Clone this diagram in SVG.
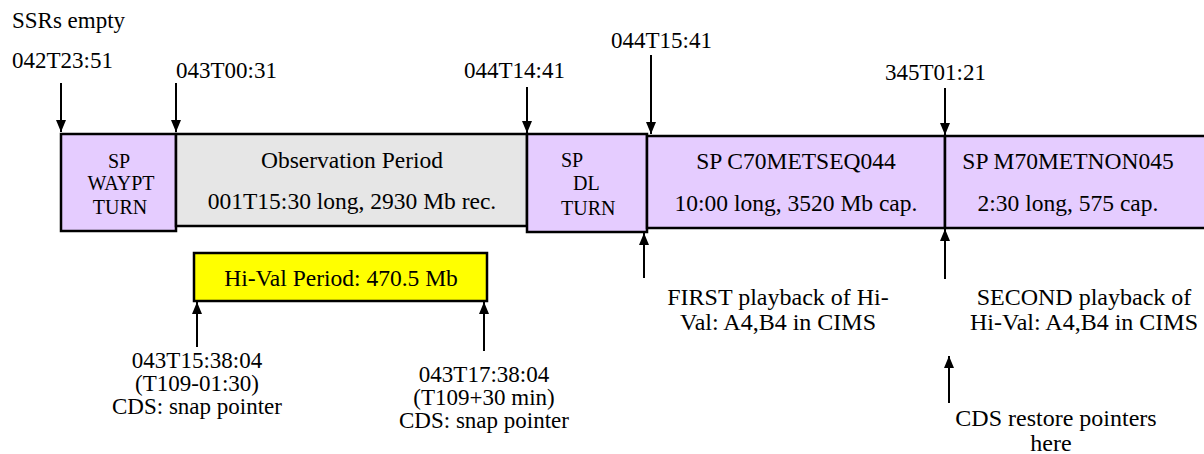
<svg xmlns="http://www.w3.org/2000/svg" width="1204" height="454" viewBox="0 0 1204 454" font-family="'Liberation Serif', 'Times New Roman', Times, serif">
<style>
  .lbl { font-family: "Liberation Serif", "Times New Roman", Times, serif; font-size: 23px; fill: #000; }
  .lbl24 { font-size: 24px; }
  .big { font-family: "Liberation Serif", "Times New Roman", Times, serif; font-size: 23.5px; text-anchor: middle; fill: #000; }
  .small { font-family: "Liberation Serif", "Times New Roman", Times, serif; font-size: 20px; fill: #000; }
  .mid { text-anchor: middle; }
  .box { stroke: #000; stroke-width: 2.5; }
  .purple { fill: #E5CCFF; }
  .gray { fill: #E6E6E6; }
  .yellow { fill: #FFFF00; }
</style>
<defs>
  <marker id="ahd" markerUnits="userSpaceOnUse" markerWidth="12" markerHeight="10" refX="12" refY="5" orient="auto" viewBox="0 0 12 10">
    <path d="M0,0 L12,5 L0,10 Z" fill="#000"/>
  </marker>
</defs>

<g id="waypt-turn">
  <rect class="box purple" x="61" y="134" width="115" height="97"/>
  <text class="small mid" x="119" y="168">SP</text>
  <text class="small mid" x="121" y="190">WAYPT</text>
  <text class="small mid" x="120" y="214">TURN</text>
</g>
<g id="observation">
  <rect class="box gray" x="176" y="134" width="351" height="92"/>
  <text class="big" x="352" y="168">Observation Period</text>
  <text class="big" x="352" y="209">001T15:30 long, 2930 Mb rec.</text>
</g>
<g id="dl-turn">
  <rect class="box purple" x="527" y="134" width="120" height="98"/>
  <text class="small" x="561" y="167">SP</text>
  <text class="small" x="573" y="190">DL</text>
  <text class="small" x="561" y="215">TURN</text>
</g>
<g id="c70">
  <rect class="box purple" x="647" y="136" width="298" height="92"/>
  <text class="big" x="796" y="169">SP C70METSEQ044</text>
  <text class="big" x="796" y="211">10:00 long, 3520 Mb cap.</text>
</g>
<g id="m70">
  <rect class="box purple" x="945" y="136" width="270" height="92"/>
  <text class="big" x="1068" y="169">SP M70METNON045</text>
  <text class="big" x="1068" y="211">2:30 long, 575 cap.</text>
</g>
<g id="hival">
  <rect class="box yellow" x="194" y="253" width="293" height="48"/>
  <text class="big" x="341" y="286">Hi-Val Period: 470.5 Mb</text>
</g>

<g id="labels">
  <text class="lbl" x="12" y="28">SSRs empty</text>
  <text class="lbl" x="12" y="68">042T23:51</text>
  <text class="lbl" x="176" y="78">043T00:31</text>
  <text class="lbl" x="464" y="78">044T14:41</text>
  <text class="lbl" x="611" y="48">044T15:41</text>
  <text class="lbl" x="885" y="80">345T01:21</text>
  <text class="lbl mid" x="197" y="368">043T15:38:04</text>
  <text class="lbl mid" x="197" y="391">(T109-01:30)</text>
  <text class="lbl mid" x="197" y="414">CDS: snap pointer</text>
  <text class="lbl mid" x="484" y="382">043T17:38:04</text>
  <text class="lbl mid" x="484" y="405">(T109+30 min)</text>
  <text class="lbl mid" x="484" y="428">CDS: snap pointer</text>
  <text class="lbl lbl24 mid" x="778" y="305">FIRST playback of Hi-</text>
  <text class="lbl lbl24 mid" x="778" y="330">Val: A4,B4 in CIMS</text>
  <text class="lbl lbl24 mid" x="1084" y="305">SECOND playback of</text>
  <text class="lbl lbl24 mid" x="1084" y="330">Hi-Val: A4,B4 in CIMS</text>
  <text class="lbl lbl24 mid" x="1056" y="426">CDS restore pointers</text>
  <text class="lbl lbl24 mid" x="1051" y="451">here</text>
</g>

<g id="connectors" stroke="#000" stroke-width="2" fill="none">
  <line x1="61" y1="83" x2="61" y2="132" marker-end="url(#ahd)"/>
  <line x1="176" y1="83" x2="176" y2="132" marker-end="url(#ahd)"/>
  <line x1="527" y1="87" x2="527" y2="133" marker-end="url(#ahd)"/>
  <line x1="651" y1="55" x2="651" y2="134" marker-end="url(#ahd)"/>
  <line x1="945" y1="88" x2="945" y2="135" marker-end="url(#ahd)"/>
  <line x1="197" y1="347" x2="197" y2="302" marker-end="url(#ahd)"/>
  <line x1="484" y1="351" x2="484" y2="302" marker-end="url(#ahd)"/>
  <line x1="644" y1="278" x2="644" y2="233" marker-end="url(#ahd)"/>
  <line x1="945" y1="279" x2="945" y2="229" marker-end="url(#ahd)"/>
  <line x1="949" y1="403" x2="949" y2="356" marker-end="url(#ahd)"/>
</g>
</svg>
